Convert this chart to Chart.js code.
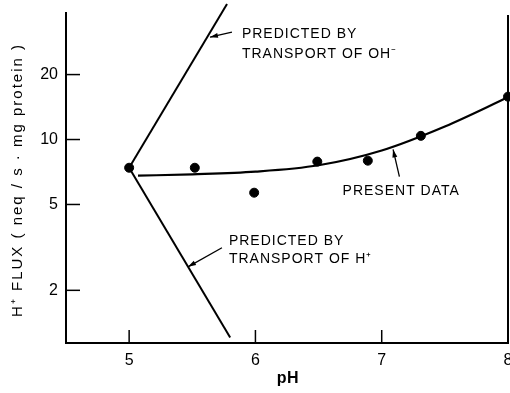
<!DOCTYPE html>
<html>
<head>
<meta charset="utf-8">
<script src="https://cdn.jsdelivr.net/npm/chart.js@4.4.1/dist/chart.umd.min.js"></script>
<style>
  body { margin: 0; background: #fff; }
  #wrap { width: 510px; height: 393px; }
</style>
</head>
<body>
<div id="wrap"><canvas id="fluxChart"></canvas></div>
<script>
// ---- data (pH vs H+ flux) ----
const xTicks = [5, 6, 7, 8];
const yTicks = [2, 5, 10, 20];

const presentPH   = [5.0, 5.52, 5.99, 6.49, 6.89, 7.31, 8.0];
const presentFlux = [7.4, 7.4, 5.67, 7.9, 7.98, 10.4, 15.8];

const fitPH   = [5.07, 5.5, 6.0, 6.5, 7.0, 7.5, 8.0];
const fitFlux = [6.8, 6.9, 7.1, 7.6, 8.9, 11.5, 15.7];

const ohPH   = [5.0, 5.775];
const ohFlux = [7.4, 42.5];

const hPH   = [5.0, 5.80];
const hFlux = [7.4, 1.21];

const toXY = (xs, ys) => xs.map((x, i) => ({ x: x, y: ys[i] }));

const FONT = "'Liberation Sans', Arial, sans-serif";

//-----------------------------------------------------
// annotations, frame and inward ticks
//-----------------------------------------------------
const decorPlugin = {
  id: "decor",
  afterDraw(chart) {
    const { ctx, chartArea: a, scales } = chart;
    const X = v => scales.x.getPixelForValue(v);
    const Y = v => scales.y.getPixelForValue(v);

    ctx.save();
    ctx.strokeStyle = "#000";
    ctx.fillStyle = "#000";
    ctx.lineWidth = 2;

    // axes frame (left, bottom, right)
    ctx.beginPath();
    ctx.moveTo(a.left, a.top);
    ctx.lineTo(a.left, a.bottom);
    ctx.lineTo(a.right, a.bottom);
    ctx.lineTo(a.right, a.top + 3);
    ctx.stroke();

    // inward ticks
    ctx.lineWidth = 1.5;
    xTicks.forEach(t => {
      ctx.beginPath();
      ctx.moveTo(X(t), a.bottom);
      ctx.lineTo(X(t), a.bottom - 13);
      ctx.stroke();
    });
    yTicks.forEach(t => {
      ctx.beginPath();
      ctx.moveTo(a.left, Y(t));
      ctx.lineTo(a.left + 14, Y(t));
      ctx.stroke();
    });

    // arrows
    function arrow(x0, y0, x1, y1) {
      const px0 = X(x0), py0 = Y(y0), px1 = X(x1), py1 = Y(y1);
      ctx.lineWidth = 1.3;
      ctx.beginPath();
      ctx.moveTo(px0, py0);
      ctx.lineTo(px1, py1);
      ctx.stroke();
      const ang = Math.atan2(py1 - py0, px1 - px0);
      const L = 8, W = 2.5;
      ctx.beginPath();
      ctx.moveTo(px1, py1);
      ctx.lineTo(px1 - L * Math.cos(ang) + W * Math.sin(ang), py1 - L * Math.sin(ang) - W * Math.cos(ang));
      ctx.lineTo(px1 - L * Math.cos(ang) - W * Math.sin(ang), py1 - L * Math.sin(ang) + W * Math.cos(ang));
      ctx.closePath();
      ctx.fill();
    }
    arrow(5.814, 31.5, 5.64, 29.8);
    arrow(7.14, 6.73, 7.09, 9.0);
    arrow(5.735, 3.15, 5.466, 2.57);

    // labels
    ctx.font = "14px " + FONT;
    ctx.letterSpacing = "1px";
    ctx.textAlign = "left";
    ctx.textBaseline = "alphabetic";
    ctx.fillText("PREDICTED BY", X(5.893), 38);
    ctx.fillText("TRANSPORT OF OH\u207B", X(5.893), 58);
    ctx.fillText("PRESENT DATA", X(6.69), 195);
    ctx.fillText("PREDICTED BY", X(5.79), 245);
    ctx.fillText("TRANSPORT OF H\u207A", X(5.79), 263);

    // axis titles
    ctx.font = "bold 16px " + FONT;
    ctx.letterSpacing = "0.5px";
    ctx.textAlign = "center";
    ctx.textBaseline = "middle";
    ctx.fillText("pH", 288, 379);

    ctx.translate(18, 180);
    ctx.rotate(-Math.PI / 2);
    ctx.font = "15px " + FONT;
    ctx.letterSpacing = "2px";
    ctx.fillText("H\u207A FLUX ( neq / s \u00B7 mg protein )", 0, 0);
    ctx.restore();
  }
};

new Chart(document.getElementById("fluxChart"), {
  type: "scatter",
  data: {
    datasets: [
      {
        label: "Predicted by transport of OH-",
        data: toXY(ohPH, ohFlux),
        showLine: true,
        borderColor: "#000",
        borderWidth: 2,
        pointRadius: 0,
        clip: false
      },
      {
        label: "Predicted by transport of H+",
        data: toXY(hPH, hFlux),
        showLine: true,
        borderColor: "#000",
        borderWidth: 2,
        pointRadius: 0,
        clip: false
      },
      {
        label: "Fit",
        data: toXY(fitPH, fitFlux),
        showLine: true,
        borderColor: "#000",
        borderWidth: 2.2,
        pointRadius: 0,
        cubicInterpolationMode: "monotone",
        clip: false
      },
      {
        label: "Present data",
        data: toXY(presentPH, presentFlux),
        showLine: false,
        backgroundColor: "#000",
        borderColor: "#000",
        pointRadius: 4.5,
        clip: false
      }
    ]
  },
  options: {
    responsive: true,
    maintainAspectRatio: false,
    animation: false,
    layout: { autoPadding: false, padding: { top: 12, right: 2, left: 0, bottom: 0 } },
    plugins: {
      legend: { display: false },
      tooltip: { enabled: false }
    },
    scales: {
      x: {
        type: "linear",
        min: 4.5,
        max: 8,
        grid: { display: false, drawTicks: false },
        border: { display: false },
        afterBuildTicks: s => { s.ticks = xTicks.map(v => ({ value: v })); },
        afterFit: s => { s.height = 50; s.paddingLeft = 0; s.paddingRight = 0; },
        ticks: {
          color: "#000",
          padding: 8,
          maxRotation: 0,
          font: { family: FONT, size: 16 },
          callback: v => String(v)
        }
      },
      y: {
        type: "logarithmic",
        min: 1.14,
        max: 39,
        grid: { display: false, drawTicks: false },
        border: { display: false },
        afterBuildTicks: s => { s.ticks = yTicks.map(v => ({ value: v })); },
        afterFit: s => { s.width = 66; s.paddingTop = 0; s.paddingBottom = 0; },
        ticks: {
          color: "#000",
          padding: 8,
          font: { family: FONT, size: 16 },
          callback: v => String(v)
        }
      }
    }
  },
  plugins: [decorPlugin]
});
</script>
</body>
</html>
